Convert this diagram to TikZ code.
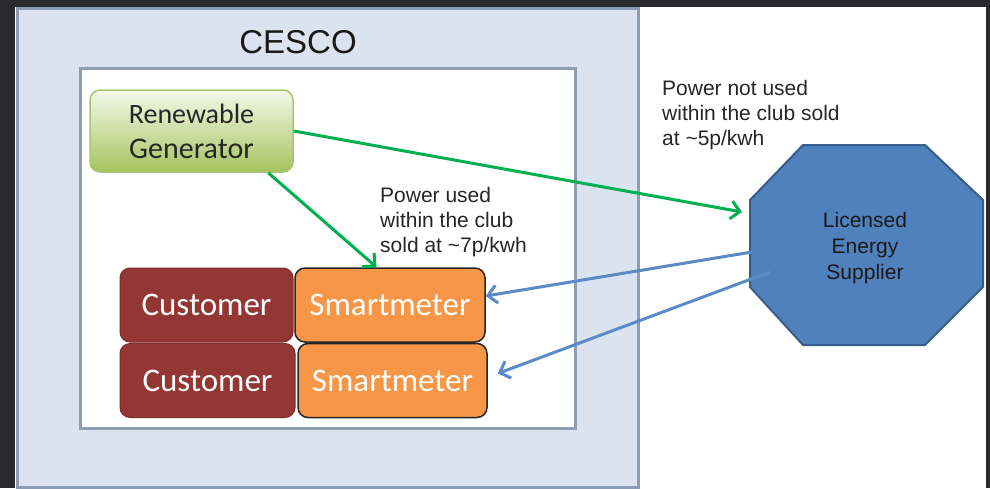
\documentclass[tikz,border=0pt]{standalone}
\usepackage{fontspec}
\setmainfont{Liberation Sans}
\newfontfamily\calibri{Carlito}
\usepackage{xcolor}
\usepackage{tikz}
\usetikzlibrary{arrows.meta,calc}

\definecolor{framedark}{HTML}{2A2A2D}
\definecolor{cescofill}{HTML}{DCE3F0}
\definecolor{cescoline}{HTML}{8C9DB4}
\definecolor{gentop}{HTML}{F4F8EA}
\definecolor{genbot}{HTML}{A5C45E}
\definecolor{genline}{HTML}{A8C472}
\definecolor{custred}{HTML}{943634}
\definecolor{meterorange}{HTML}{F79646}
\definecolor{flowgreen}{HTML}{00B050}
\definecolor{flowblue}{HTML}{5A8BC6}
\definecolor{supplierfill}{HTML}{4F81BD}
\definecolor{supplierline}{HTML}{385D8A}

\tikzset{
  genbox/.style={draw=genline, line width=1.5pt, rounded corners=10pt,
    top color=gentop, bottom color=genbot, minimum width=203pt,
    minimum height=82pt, align=center, text=black!85,
    font=\calibri\fontsize{28}{30}\selectfont},
  custbox/.style={draw=custred!85!black, line width=1pt, fill=custred,
    rounded corners=10pt, minimum height=74pt, text=white,
    font=\calibri\fontsize{33}{36}\selectfont},
  meterbox/.style={draw=black!85, line width=1.5pt, fill=meterorange,
    rounded corners=10pt, minimum height=74pt, text=white,
    font=\calibri\fontsize{33}{36}\selectfont},
  note/.style={align=left, inner sep=0pt, anchor=north west, text=black!85,
    font=\fontsize{21}{25}\selectfont},
  greenflow/.style={draw=flowgreen, line width=3pt,
    -{Straight Barb[length=9pt,width=18pt]}},
  blueflow/.style={draw=flowblue, line width=3pt,
    -{Straight Barb[length=9pt,width=18pt]}}
}

\begin{document}
\begin{tikzpicture}[x=1pt,y=-1pt]
        \useasboundingbox (0,0) rectangle (990,488);

        % Frame
        \fill[framedark] (0,0) rectangle (990,488);
        \fill[white] (15,7) rectangle (986,488);

        % CESCO club
        \filldraw[fill=cescofill, draw=cescoline, line width=3pt] (17,8) rectangle (638,487);
        \node[anchor=base, font=\fontsize{33}{36}\selectfont, text=black!90] (cesco) at (298,53) {CESCO};
        \filldraw[fill=white, draw=cescoline, line width=3pt] (80,68) rectangle (575,428);

        % Generator
        \node[genbox] (gen) at (191.5,131) {Renewable\\[5pt]{\fontsize{30}{30}\selectfont Generator}};

        % Customers and meters
        \node[custbox, minimum width=173pt] (cust1) at (206.5,305) {Customer};
        \node[meterbox, minimum width=190pt] (meter1) at (390,305) {Smartmeter};
        \node[custbox, minimum width=175pt] (cust2) at (207.5,380.5) {Customer};
        \node[meterbox, minimum width=189pt] (meter2) at (392.5,380.5) {Smartmeter};

        % Supplier
        \filldraw[fill=supplierfill, draw=supplierline, line width=2pt]
          (803,145) -- (925,145) -- (983,200) -- (983,287) -- (925,345)
          -- (803,345) -- (750,287) -- (750,200) -- cycle;
        \node[align=center, font=\fontsize{21}{26}\selectfont, text=black!90] (lse) at (865,248) {Licensed\\Energy\\Supplier};
        \coordinate (lse-in) at (742,212);
        \coordinate (lse-out1) at (752,252);
        \coordinate (lse-out2) at (770,272);

        % Labels
        \node[note] (soldout) at (662,80) {Power not used\\within the club sold\\at \textasciitilde5p/kwh};
        \node[note] (soldin) at (380,187) {Power used\\within the club\\sold at \textasciitilde7p/kwh};

        % Power flows
        \draw[greenflow] (gen.east) -- (lse-in);
        \draw[greenflow] ($(gen.south)!0.75!(gen.south east)$) -- ($(meter1.north west)!0.43!(meter1.north east)$);
        \draw[blueflow] (lse-out1) -- ([yshift=9pt]meter1.east);
        \draw[blueflow] (lse-out2) -- ([shift={(10pt,7pt)}]meter2.east);
      \end{tikzpicture}
\end{document}
